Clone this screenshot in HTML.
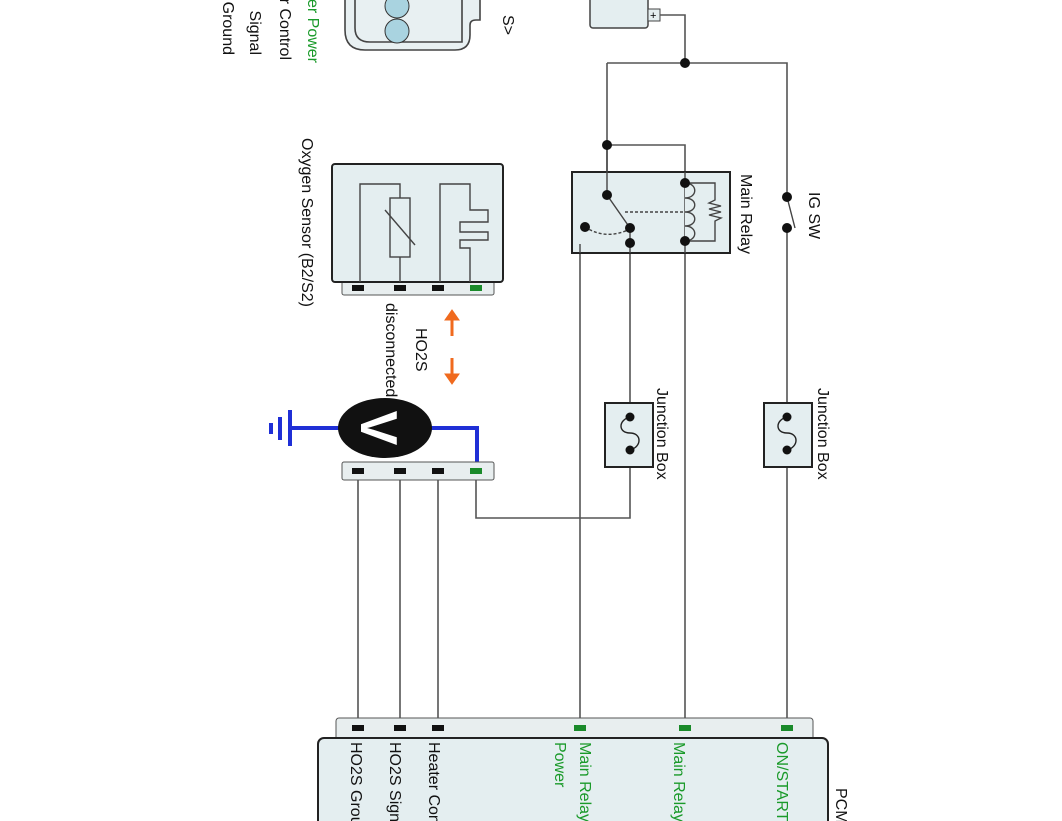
<!DOCTYPE html>
<html><head><meta charset="utf-8"><style>html,body{margin:0;padding:0;background:#fff}svg{display:block}text{font-family:"Liberation Sans",sans-serif;font-size:16px}</style></head><body>
<svg width="1062" height="821" viewBox="0 0 1062 821" xmlns="http://www.w3.org/2000/svg">
<g fill="none" stroke="#555" stroke-width="1.6">
<path d="M345,-5 L345,30 Q345,50 365,50 L455,50 Q470,50 470,35 L470,25 Q470,20 476,20 L480,20 L480,-5" fill="#e8f0f2" stroke="#444"/>
<path d="M355,-5 L355,28 Q355,42 370,42 L462,42 L462,-5" stroke="#444"/>
</g>
<circle cx="397" cy="6" r="12" fill="#a9d3e0" stroke="#333"/>
<circle cx="397" cy="31" r="12" fill="#a9d3e0" stroke="#333"/>
<rect x="590" y="-5" width="58" height="33" rx="3" fill="#e4eef0" stroke="#444" stroke-width="1.5"/>
<rect x="648" y="9" width="12" height="12" fill="#e4eef0" stroke="#444"/>
<text x="650" y="19" style="font-size:11px">+</text>
<g fill="none" stroke="#555" stroke-width="1.6">
<path d="M660,15 H685 V63"/>
<path d="M607,63 H787 V730"/>
<path d="M607,63 V195"/>
<path d="M607,145 H685 V730"/>
<path d="M580,730 V244 H630"/>
<path d="M630,228 V518 H476 V470"/>
<path d="M358,480 V728 M400,480 V728 M438,480 V728"/>
</g>
<rect x="572" y="172" width="158" height="81" fill="#e4eef0" stroke="#222" stroke-width="2"/>
<g fill="none" stroke="#444" stroke-width="1.4">
<path d="M607,145 V195 L630,228"/>
<path d="M630,228 V253"/>
<path d="M685,172 V253"/>
<path d="M685,183 C698,183 698,198 685,198 C698,198 698,212 685,212 C698,212 698,226 685,226 C698,226 698,241 685,241" fill="#e4eef0"/>
<path d="M685,183 H715 V200 l-6,3 l12,3 l-12,3 l12,3 l-12,3 l12,3 l-6,3 V241 H685"/>
<path d="M625,212 H685" stroke-dasharray="3,2"/>
<path d="M585,227 Q605,240 628,230" stroke-dasharray="3,2"/>
<path d="M580,253 V244"/>
</g>
<g fill="#111">
<circle cx="685" cy="63" r="5"/><circle cx="607" cy="145" r="5"/><circle cx="607" cy="195" r="5"/>
<circle cx="685" cy="183" r="5"/><circle cx="685" cy="241" r="5"/><circle cx="630" cy="228" r="5"/>
<circle cx="630" cy="243" r="5"/><circle cx="585" cy="227" r="5"/>
</g>
<rect x="780" y="199" width="14" height="27" fill="#fff"/>
<line x1="787" y1="197" x2="795" y2="228" stroke="#444" stroke-width="1.4"/>
<circle cx="787" cy="197" r="5" fill="#111"/><circle cx="787" cy="228" r="5" fill="#111"/>
<g>
<rect x="605" y="403" width="48" height="64" fill="#e4eef0" stroke="#222" stroke-width="2"/>
<path d="M630,417 C618,420 618,433 630,433 C642,433 642,447 630,450" fill="none" stroke="#222" stroke-width="1.4"/>
<circle cx="630" cy="417" r="4.5" fill="#111"/><circle cx="630" cy="450" r="4.5" fill="#111"/>
<rect x="764" y="403" width="48" height="64" fill="#e4eef0" stroke="#222" stroke-width="2"/>
<path d="M787,417 C775,420 775,433 787,433 C799,433 799,447 787,450" fill="none" stroke="#222" stroke-width="1.4"/>
<circle cx="787" cy="417" r="4.5" fill="#111"/><circle cx="787" cy="450" r="4.5" fill="#111"/>
</g>
<rect x="342" y="280" width="152" height="15" rx="2" fill="#e8eeef" stroke="#555"/>
<rect x="332" y="164" width="171" height="118" rx="3" fill="#e4eef0" stroke="#222" stroke-width="2"/>
<g fill="none" stroke="#444" stroke-width="1.4">
<path d="M360,282 V184 H400 V198 M400,257 V282"/>
<rect x="390" y="198" width="20" height="59"/>
<path d="M385,210 L415,245"/>
<path d="M440,282 V184 H470 V210 H488 V222 H460 V232 H488 V240 H460 V248 H470 V282"/>
</g>
<g>
<rect x="352" y="285" width="12" height="6" fill="#111"/><rect x="394" y="285" width="12" height="6" fill="#111"/>
<rect x="432" y="285" width="12" height="6" fill="#111"/><rect x="470" y="285" width="12" height="6" fill="#1a8a2a"/>
</g>
<g fill="#f06a1e" stroke="#f06a1e">
<line x1="452" y1="318" x2="452" y2="336" stroke-width="3"/><path d="M445,320 L452,310 L459,320 Z"/>
<line x1="452" y1="358" x2="452" y2="376" stroke-width="3"/><path d="M445,374 L452,384 L459,374 Z"/>
</g>
<g fill="none" stroke="#1f2fd6" stroke-width="4">
<path d="M430,428 H477 V470"/><path d="M340,428 H290"/>
<path d="M290,410 V446"/><path d="M280,417 V440" /><path d="M271,423 V434"/>
</g>
<ellipse cx="385" cy="428" rx="47" ry="30" fill="#111"/>
<text transform="translate(361,428) rotate(90)" text-anchor="middle" fill="#fff" style="font-size:52px;font-weight:bold" dy="0">V</text>
<rect x="342" y="462" width="152" height="18" rx="2" fill="#e8eeef" stroke="#555"/>
<rect x="352" y="468" width="12" height="6" fill="#111"/><rect x="394" y="468" width="12" height="6" fill="#111"/>
<rect x="432" y="468" width="12" height="6" fill="#111"/><rect x="470" y="468" width="12" height="6" fill="#1a8a2a"/>
<rect x="336" y="718" width="477" height="24" rx="3" fill="#e8eeef" stroke="#555"/>
<rect x="318" y="738" width="510" height="100" rx="6" fill="#e4eef0" stroke="#222" stroke-width="2"/>
<g>
<rect x="352" y="725" width="12" height="6" fill="#111"/><rect x="394" y="725" width="12" height="6" fill="#111"/>
<rect x="432" y="725" width="12" height="6" fill="#111"/>
<rect x="574" y="725" width="12" height="6" fill="#1a8a2a"/><rect x="679" y="725" width="12" height="6" fill="#1a8a2a"/>
<rect x="781" y="725" width="12" height="6" fill="#1a8a2a"/>
</g>
<g fill="#111">
<text transform="translate(223,55) rotate(90)" text-anchor="end">Ground</text>
<text transform="translate(250,55) rotate(90)" text-anchor="end">Signal</text>
<text transform="translate(280,60) rotate(90)" text-anchor="end">r Control</text>
<text transform="translate(308,63) rotate(90)" text-anchor="end" fill="#1a9a2a">er Power</text>
<text transform="translate(503,35) rotate(90)" text-anchor="end">S&gt;</text>
<text transform="translate(741,174) rotate(90)">Main Relay</text>
<text transform="translate(809,192) rotate(90)">IG SW</text>
<text transform="translate(657,388) rotate(90)">Junction Box</text>
<text transform="translate(818,388) rotate(90)">Junction Box</text>
<text transform="translate(302,138) rotate(90)">Oxygen Sensor (B2/S2)</text>
<text transform="translate(416,328) rotate(90)">HO2S</text>
<text transform="translate(386,303) rotate(90)">disconnected</text>
<text transform="translate(351,742) rotate(90)">HO2S  Ground</text>
<text transform="translate(390,742) rotate(90)">HO2S  Signal</text>
<text transform="translate(429,742) rotate(90)">Heater Control</text>
<text transform="translate(580,742) rotate(90)" fill="#1a9a2a">Main Relay</text>
<text transform="translate(555,742) rotate(90)" fill="#1a9a2a">Power</text>
<text transform="translate(674,742) rotate(90)" fill="#1a9a2a">Main Relay</text>
<text transform="translate(777,742) rotate(90)" fill="#1a9a2a">ON/START</text>
<text transform="translate(836,788) rotate(90)">PCM</text>
</g>
</svg>
</body></html>
